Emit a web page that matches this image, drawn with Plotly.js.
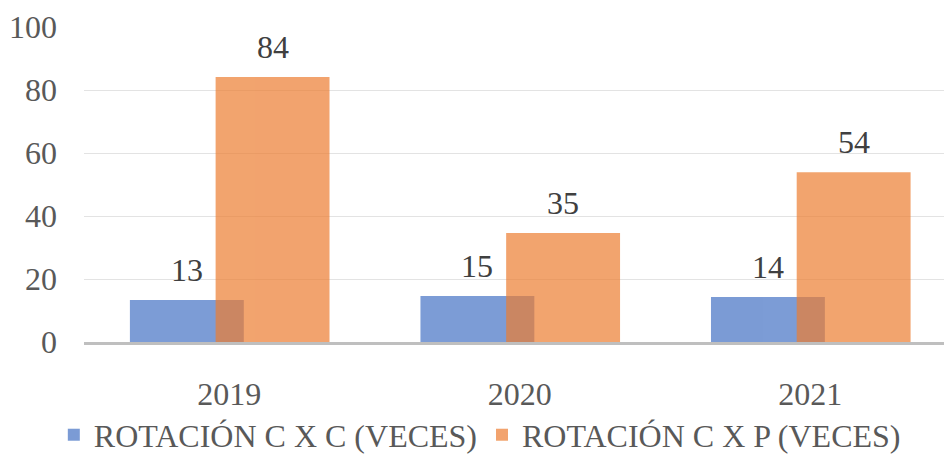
<!DOCTYPE html>
<html>
<head>
<meta charset="utf-8">
<script src="https://cdn.plot.ly/plotly-3.0.1.min.js"></script>
<style>html,body{margin:0;padding:0;background:#fff;}#chart{width:944px;height:454px;}</style>
</head>
<body>
<div id="chart"></div>
<script>
var years = ['2019', '2020', '2021'];
var seriesNames = ['ROTACIÓN C X C (VECES)', 'ROTACIÓN C X P (VECES)'];
var rotacionCxC = [13.3, 14.6, 14.3];
var rotacionCxP = [84.1, 34.6, 53.9];
var labelsCxC = ['13', '15', '14'];
var labelsCxP = ['84', '35', '54'];

var idx = years.map(function(_, i){ return i; });
var barW = 0.392;
var offC = -0.342, offP = -0.047;
var font = '"Liberation Serif", "Times New Roman", Times, serif';
var fs = 32;

var traces = [
  {type:'bar', name:seriesNames[0], x:idx, y:rotacionCxC, width:barW, offset:offC,
   marker:{color:'#4472C4', line:{width:0}}, opacity:0.7, hoverinfo:'none'},
  {type:'bar', name:seriesNames[1], x:idx, y:rotacionCxP, width:barW, offset:offP,
   marker:{color:'#ED7D31', line:{width:0}}, opacity:0.7, hoverinfo:'none'}
];

var annotations = [];
idx.forEach(function(i){
  annotations.push({x:i+offC+barW/2, y:rotacionCxC[i], xref:'x', yref:'y', text:labelsCxC[i],
    showarrow:false, yanchor:'middle', yshift:30, font:{family:font, size:fs, color:'#404040'}});
  annotations.push({x:i+offP+barW/2, y:rotacionCxP[i], xref:'x', yref:'y', text:labelsCxP[i],
    showarrow:false, yanchor:'middle', yshift:30, font:{family:font, size:fs, color:'#404040'}});
});

var layout = {
  width:944, height:454,
  margin:{l:84, r:0, t:27, b:112, autoexpand:false},
  paper_bgcolor:'#ffffff', plot_bgcolor:'#ffffff',
  barmode:'overlay',
  showlegend:true,
  legend:{orientation:'h', xref:'container', yref:'container', x:0.057, xanchor:'left', y:0.042, yanchor:'middle',
    font:{family:font, size:32, color:'#595959'}, traceorder:'normal', itemwidth:30, tracegroupgap:0},
  xaxis:{range:[-0.5, 2.46], tickvals:idx, ticktext:years, showgrid:false, zeroline:false, automargin:false,
    showline:true, linecolor:'#bfbfbf', linewidth:2.5, ticks:'', ticklabelstandoff:22,
    tickfont:{family:font, size:fs, color:'#595959'}, fixedrange:true},
  yaxis:{range:[0, 100], dtick:20, tick0:0, showgrid:true, gridcolor:'#e3e3e3', gridwidth:1, automargin:false,
    zeroline:false, showline:false, ticks:'', ticklabelstandoff:26,
    tickfont:{family:font, size:fs, color:'#595959'}, fixedrange:true},
  annotations:annotations
};

Plotly.newPlot('chart', traces, layout, {staticPlot:true, displayModeBar:false});
</script>
</body>
</html>
